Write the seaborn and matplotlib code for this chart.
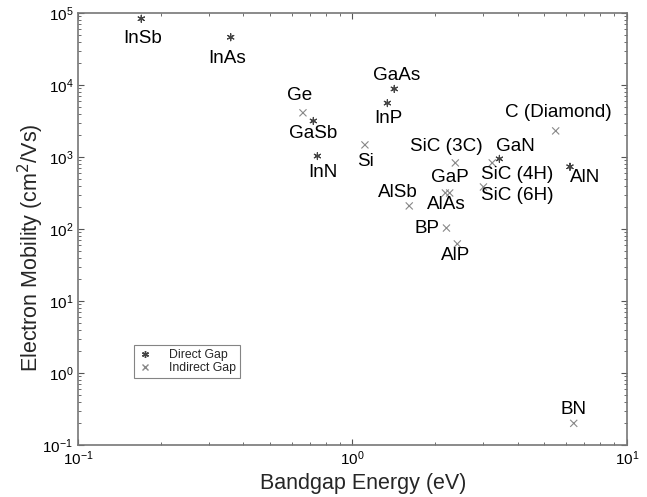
import pandas as pd
import seaborn as sns
import matplotlib.pyplot as plt
from matplotlib.lines import Line2D

# Данные: полупроводники, ширина запрещённой зоны и подвижность электронов
materials = ['InSb', 'InAs', 'Ge', 'GaSb', 'InN', 'Si', 'GaAs', 'InP', 'SiC (3C)', 'GaN',
             'SiC (4H)', 'SiC (6H)', 'AlN', 'C (Diamond)', 'GaP', 'AlAs', 'AlSb', 'BP', 'AlP', 'BN']
bandgap = [0.17, 0.36, 0.66, 0.72, 0.745, 1.11, 1.42, 1.34, 2.37, 3.43,
           3.23, 3.0, 6.2, 5.5, 2.26, 2.18, 1.61, 2.2, 2.41, 6.4]
mobility = [83000, 46000, 4100, 3160, 1030, 1470, 8800, 5600, 826, 940,
            826, 383, 730, 2300, 316, 316, 209, 103, 62, 0.2]
gap_type = ['Direct Gap', 'Direct Gap', 'Indirect Gap', 'Direct Gap', 'Direct Gap',
            'Indirect Gap', 'Direct Gap', 'Direct Gap', 'Indirect Gap', 'Direct Gap',
            'Indirect Gap', 'Indirect Gap', 'Direct Gap', 'Indirect Gap', 'Indirect Gap',
            'Indirect Gap', 'Indirect Gap', 'Indirect Gap', 'Indirect Gap', 'Indirect Gap']
# смещение подписей относительно точки (в пикселях)
label_dx = [1, -4, -3, 0, 5, 1, 2, 1, -9, 16, 25, 34, 15, 3, 0, 1, -11, -19, -2, 0]
label_dy = [-20, -21, 17, -13, -16, -17, 13, -15, 16, 12, -12, -9, -11, 18, 15, -12, 13, 0, -12, 14]

df = pd.DataFrame({'material': materials, 'Eg': bandgap, 'mu': mobility, 'gap': gap_type})

sns.set_style('ticks')
plt.rcParams['font.family'] = ['Liberation Sans', 'DejaVu Sans']

fig = plt.figure(figsize=(6.47, 4.97), dpi=100)
ax = fig.add_axes([0.1206, 0.1046, 0.8484, 0.8694])

asterisk = (6, 2, 0)
sns.scatterplot(data=df, x='Eg', y='mu', hue='gap', style='gap',
                markers={'Direct Gap': asterisk, 'Indirect Gap': 'x'},
                palette={'Direct Gap': '#444444', 'Indirect Gap': '#888888'},
                s=26, linewidth=0.8, ax=ax, legend=False)

ax.set_xscale('log')
ax.set_yscale('log')
ax.set_xlim(0.1, 10)
ax.set_ylim(0.1, 1e5)

for m, x, y, dx, dy in zip(materials, bandgap, mobility, label_dx, label_dy):
    ax.annotate(m, (x, y), xytext=(dx * 0.72, dy * 0.72), textcoords='offset points',
                ha='center', va='center', fontsize=13.6, color='black')

ax.set_xlabel('Bandgap Energy (eV)', fontsize=15.5, va='center')
ax.set_ylabel('Electron Mobility (cm$^2$/Vs)', fontsize=15.5, va='center')
ax.xaxis.set_label_coords(0.519, -0.09)
ax.yaxis.set_label_coords(-0.086, 0.456)
ax.tick_params(which='both', direction='in', top=True, right=True, colors='#555555',
               labelcolor='black', labelsize=11)
ax.tick_params(which='major', length=4)
ax.tick_params(which='minor', length=2)
for sp in ax.spines.values():
    sp.set_color('#777777')
    sp.set_linewidth(1.2)

handles = [Line2D([], [], marker=asterisk, color='#444444', linestyle='none', markersize=5),
           Line2D([], [], marker='x', color='#888888', linestyle='none', markersize=4)]
leg = ax.legend(handles, ['Direct Gap', 'Indirect Gap'], loc='upper left',
                bbox_to_anchor=(0.09, 0.245), fontsize=8.8, frameon=True, fancybox=False,
                edgecolor='#666666', borderpad=0.3, labelspacing=0.1, handletextpad=1.4,
                handlelength=1.2)
leg.get_frame().set_linewidth(0.8)

fig.savefig('out.png', dpi=100)
